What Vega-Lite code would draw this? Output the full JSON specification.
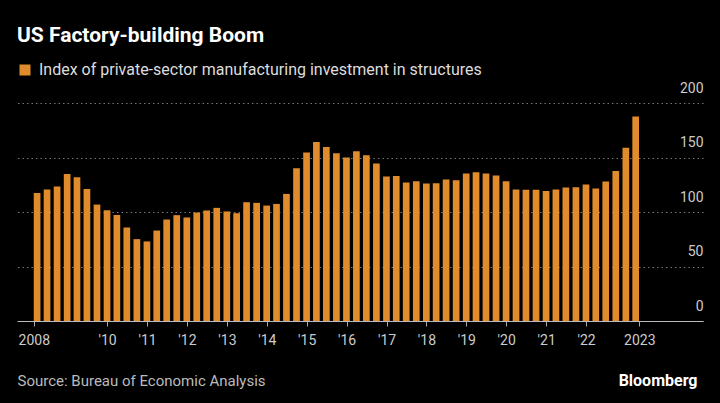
{
  "$schema": "https://vega.github.io/schema/vega-lite/v6.json",
  "width": 686,
  "height": 218,
  "autosize": {"type": "none"},
  "padding": {"left": 17, "top": 103, "right": 17, "bottom": 82},
  "background": "#000000",
  "title": {
    "text": "US Factory-building Boom",
    "anchor": "start",
    "frame": "group",
    "fontSize": 21,
    "fontWeight": "bold",
    "color": "#ffffff",
    "font": "Roboto",
    "offset": 16
  },
  "data": {
    "values": [
      {"date": "2008-03-31", "index": 117.5},
      {"date": "2008-06-30", "index": 120.6},
      {"date": "2008-09-30", "index": 123.3},
      {"date": "2008-12-31", "index": 134.9},
      {"date": "2009-03-31", "index": 131.9},
      {"date": "2009-06-30", "index": 121.2},
      {"date": "2009-09-30", "index": 106.8},
      {"date": "2009-12-31", "index": 101.6},
      {"date": "2010-03-31", "index": 97.3},
      {"date": "2010-06-30", "index": 85.8},
      {"date": "2010-09-30", "index": 75.1},
      {"date": "2010-12-31", "index": 73.0},
      {"date": "2011-03-31", "index": 83.0},
      {"date": "2011-06-30", "index": 93.1},
      {"date": "2011-09-30", "index": 97.1},
      {"date": "2011-12-31", "index": 95.0},
      {"date": "2012-03-31", "index": 99.5},
      {"date": "2012-06-30", "index": 101.4},
      {"date": "2012-09-30", "index": 103.8},
      {"date": "2012-12-31", "index": 100.5},
      {"date": "2013-03-31", "index": 98.9},
      {"date": "2013-06-30", "index": 109.0},
      {"date": "2013-09-30", "index": 108.4},
      {"date": "2013-12-31", "index": 105.9},
      {"date": "2014-03-31", "index": 107.4},
      {"date": "2014-06-30", "index": 116.6},
      {"date": "2014-09-30", "index": 140.1},
      {"date": "2014-12-31", "index": 154.5},
      {"date": "2015-03-31", "index": 164.2},
      {"date": "2015-06-30", "index": 159.6},
      {"date": "2015-09-30", "index": 153.8},
      {"date": "2015-12-31", "index": 149.9},
      {"date": "2016-03-31", "index": 155.7},
      {"date": "2016-06-30", "index": 152.0},
      {"date": "2016-09-30", "index": 144.4},
      {"date": "2016-12-31", "index": 132.5},
      {"date": "2017-03-31", "index": 133.1},
      {"date": "2017-06-30", "index": 127.0},
      {"date": "2017-09-30", "index": 128.2},
      {"date": "2017-12-31", "index": 126.1},
      {"date": "2018-03-31", "index": 126.4},
      {"date": "2018-06-30", "index": 129.8},
      {"date": "2018-09-30", "index": 129.1},
      {"date": "2018-12-31", "index": 135.3},
      {"date": "2019-03-31", "index": 136.4},
      {"date": "2019-06-30", "index": 135.3},
      {"date": "2019-09-30", "index": 133.4},
      {"date": "2019-12-31", "index": 128.2},
      {"date": "2020-03-31", "index": 120.6},
      {"date": "2020-06-30", "index": 120.3},
      {"date": "2020-09-30", "index": 120.3},
      {"date": "2020-12-31", "index": 119.3},
      {"date": "2021-03-31", "index": 120.6},
      {"date": "2021-06-30", "index": 122.4},
      {"date": "2021-09-30", "index": 122.7},
      {"date": "2021-12-31", "index": 125.2},
      {"date": "2022-03-31", "index": 121.5},
      {"date": "2022-06-30", "index": 127.9},
      {"date": "2022-09-30", "index": 137.6},
      {"date": "2022-12-31", "index": 159.0},
      {"date": "2023-03-31", "index": 187.7}
    ]
  },
  "mark": {"type": "bar", "width": 6.7},
  "encoding": {
    "x": {
      "field": "date",
      "type": "temporal",
      "scale": {
        "type": "utc",
        "padding": 0,
        "domain": [
          {"year": 2007, "month": 9, "date": 29, "utc": true},
          {"year": 2024, "month": 12, "date": 6, "utc": true}
        ]
      },
      "axis": {
        "title": "Source: Bureau of Economic Analysis",
        "titleFont": "Roboto",
        "titleFontSize": 15,
        "titleFontWeight": "normal",
        "titleColor": "#bbbbbb",
        "titleAnchor": "start",
        "titleAlign": "left",
        "titleBaseline": "alphabetic",
        "titleX": 0,
        "titleY": 64,
        "values": [
          {"year": 2008, "month": 3, "date": 1, "utc": true},
          {"year": 2010, "month": 1, "date": 1, "utc": true},
          {"year": 2011, "month": 1, "date": 1, "utc": true},
          {"year": 2012, "month": 1, "date": 1, "utc": true},
          {"year": 2013, "month": 1, "date": 1, "utc": true},
          {"year": 2014, "month": 1, "date": 1, "utc": true},
          {"year": 2015, "month": 1, "date": 1, "utc": true},
          {"year": 2016, "month": 1, "date": 1, "utc": true},
          {"year": 2017, "month": 1, "date": 1, "utc": true},
          {"year": 2018, "month": 1, "date": 1, "utc": true},
          {"year": 2019, "month": 1, "date": 1, "utc": true},
          {"year": 2020, "month": 1, "date": 1, "utc": true},
          {"year": 2021, "month": 1, "date": 1, "utc": true},
          {"year": 2022, "month": 1, "date": 1, "utc": true},
          {"year": 2023, "month": 5, "date": 3, "utc": true}
        ],
        "labelExpr": "(utcyear(datum.value) == 2008 || utcyear(datum.value) == 2023) ? utcFormat(datum.value, '%Y') : \"'\" + utcFormat(datum.value, '%y')",
        "labelFont": "Roboto",
        "labelFontSize": 14,
        "labelColor": "#cccccc",
        "labelPadding": 7,
        "labelFlush": false,
        "labelOverlap": false,
        "labelBound": false,
        "tickSize": 5,
        "tickColor": "#aaaaaa",
        "domainColor": "#bbbbbb",
        "grid": false
      }
    },
    "y": {
      "field": "index",
      "type": "quantitative",
      "scale": {"domain": [0, 200]},
      "axis": {
        "orient": "right",
        "title": "Bloomberg",
        "titleAngle": 0,
        "titleAlign": "right",
        "titleBaseline": "alphabetic",
        "titleX": -6,
        "titleY": 282,
        "titleFont": "Roboto",
        "titleFontSize": 16,
        "titleFontWeight": "bold",
        "titleColor": "#ffffff",
        "values": [0, 50, 100, 150, 200],
        "domain": false,
        "ticks": false,
        "tickSize": 0,
        "labelAlign": "right",
        "labelPadding": 0,
        "labelBaseline": "middle",
        "labelOffset": -15,
        "labelFont": "Roboto",
        "labelFontSize": 14,
        "labelColor": "#cccccc",
        "labelFlush": false,
        "labelOverlap": false,
        "labelBound": false,
        "grid": true,
        "gridColor": "#777777",
        "gridDash": [1.5, 3],
        "gridWidth": 1
      }
    },
    "color": {
      "datum": "Index of private-sector manufacturing investment in structures",
      "scale": {"range": ["#E08B2C"]},
      "legend": {
        "orient": "top",
        "title": null,
        "symbolType": "square",
        "symbolSize": 121,
        "symbolStrokeWidth": 0,
        "labelFont": "Roboto",
        "labelFontSize": 16,
        "labelColor": "#dddddd",
        "labelLimit": 0,
        "labelOffset": 6,
        "offset": 25
      }
    }
  },
  "config": {"view": {"stroke": null}}
}
